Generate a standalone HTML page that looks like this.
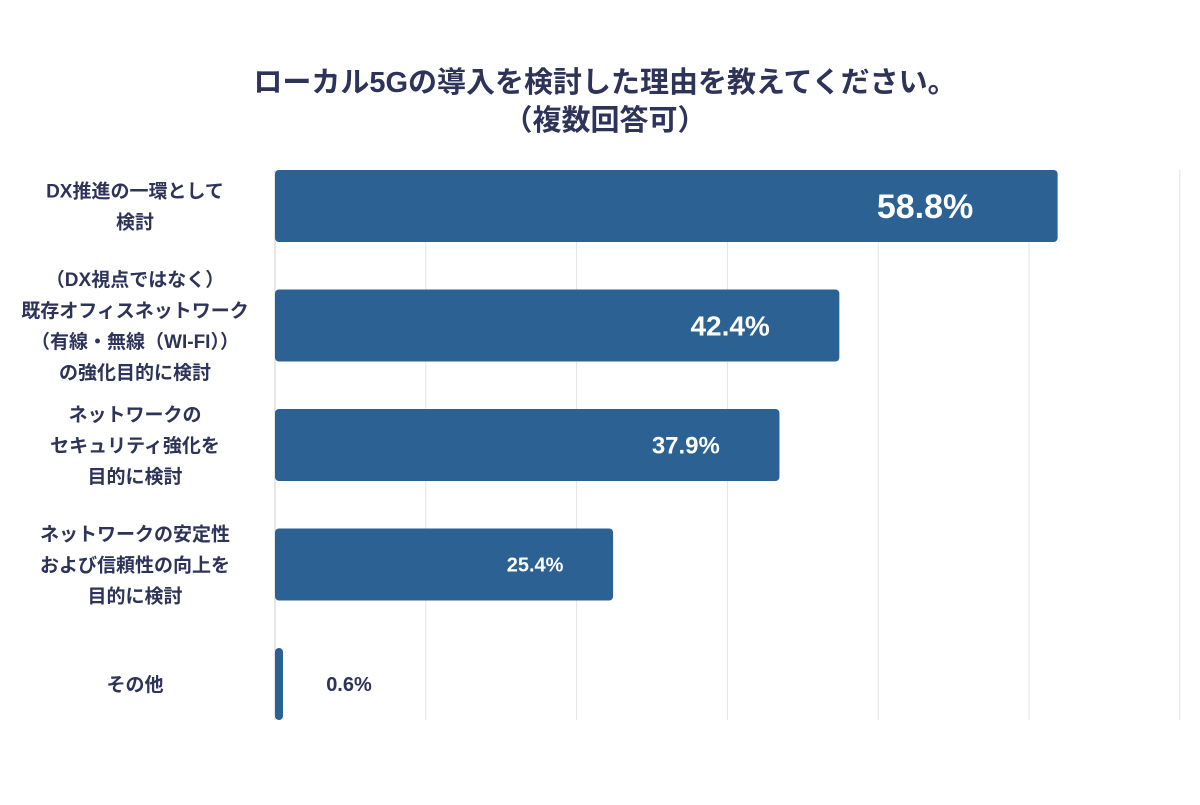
<!DOCTYPE html>
<html><head><meta charset="utf-8"><style>
body{margin:0;background:#fff;}
svg text{font-family:"Liberation Sans","Noto Sans CJK JP",sans-serif;font-weight:bold;}
</style></head><body>
<svg id="chart" width="1200" height="800" xmlns="http://www.w3.org/2000/svg">
<text x="605" y="92" text-anchor="middle" font-size="29" fill="#2d3359">ローカル5Gの導入を検討した理由を教えてください。</text>
<text x="605" y="130" text-anchor="middle" font-size="29" fill="#2d3359">（複数回答可）</text>
<g id="grid"></g><g id="bars"></g><g id="labels"></g>
</svg>
<script>
const categories=[["DX推進の一環として","検討"],["（DX視点ではなく）","既存オフィスネットワーク","（有線・無線（WI-FI））","の強化目的に検討"],["ネットワークの","セキュリティ強化を","目的に検討"],["ネットワークの安定性","および信頼性の向上を","目的に検討"],["その他"]];
const values=[58.8,42.4,37.9,25.4,0.6];
const valueLabels=["58.8%","42.4%","37.9%","25.4%","0.6%"];
const gridTicks=[0,11.33,22.66,33.99,45.32,56.65,67.98];
const NS="http://www.w3.org/2000/svg";
const x0=275,pxPer=13.31,top0=170,pitch=119.5,bh=72;
const xs=v=>x0+v*pxPer;
const ys=i=>top0+i*pitch;
function mk(t,a,p){const e=document.createElementNS(NS,t);for(const k in a)e.setAttribute(k,a[k]);p.appendChild(e);return e;}
const grid=document.getElementById('grid'),bars=document.getElementById('bars'),labels=document.getElementById('labels');
gridTicks.forEach((t,i)=>{
  const l=mk('line',{x1:xs(t),x2:xs(t),y1:170,y2:720,stroke:i==0?'#cfcfcf':'#e3e3e3','stroke-width':1},grid);
  
  
});
values.forEach((v,i)=>{
  const w=Math.max(v*pxPer,7);
  const r=mk('rect',{x:x0,y:ys(i),width:w,height:bh,rx:4,fill:'#2b6193'},bars);
  
  
  const fs=[34,28,24,20,20][i];
  const cy=ys(i)+bh/2;
  let tx,fill;
  if(v>5){tx=xs(v)-fs*3.9;fill='#fff';}else{tx=xs(v)+66;fill='#2d3359';}
  const t=mk('text',{x:tx,y:cy+fs*0.36,'text-anchor':'middle','font-size':fs,fill:fill},labels);
  t.textContent=valueLabels[i];
  
  
  const lines=categories[i],lh=31;
  lines.forEach((s,j)=>{
    const c=mk('text',{x:135,y:cy+(j-(lines.length-1)/2)*lh+7,'text-anchor':'middle','font-size':19,fill:'#2d3359'},labels);
    c.textContent=s;
    
    
  });
});
</script>
</body></html>
